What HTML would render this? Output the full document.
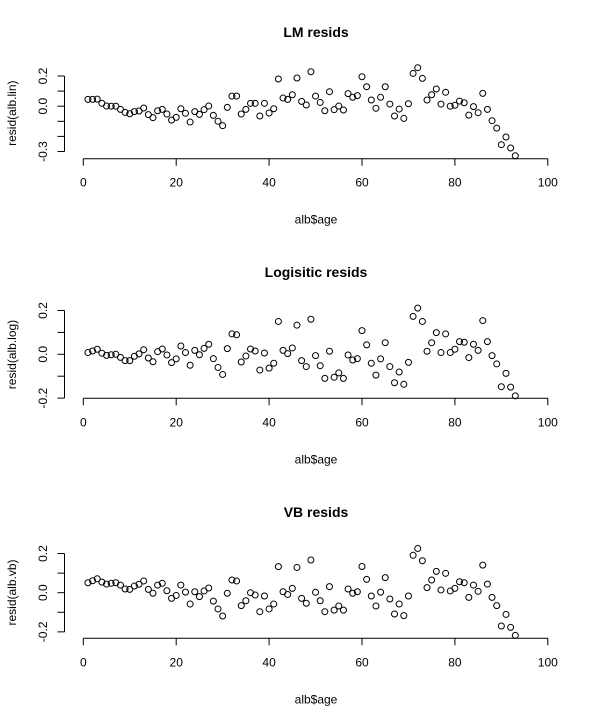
<!DOCTYPE html>
<html><head><meta charset="utf-8"><style>
html,body{margin:0;padding:0;background:#fff}
svg{display:block;font-family:"Liberation Sans",Arial,sans-serif}
</style></head><body>
<svg id="chart" width="600" height="720"></svg>
<script>
const ages = Array.from({length:93},(_, i)=>i+1);
const lmResid = [0.045,0.045,0.047,0.019,0.001,0,0,-0.021,-0.041,-0.05,-0.036,-0.032,-0.012,-0.056,-0.076,-0.03,-0.021,-0.052,-0.092,-0.074,-0.017,-0.047,-0.105,-0.036,-0.054,-0.023,0.001,-0.061,-0.1,-0.129,-0.008,0.067,0.067,-0.052,-0.021,0.019,0.019,-0.065,0.019,-0.045,-0.017,0.18,0.054,0.045,0.076,0.187,0.032,0.008,0.228,0.067,0.025,-0.03,0.096,-0.023,0.001,-0.025,0.083,0.059,0.07,0.195,0.129,0.041,-0.014,0.059,0.129,0.014,-0.065,-0.019,-0.081,0.016,0.217,0.255,0.184,0.041,0.076,0.114,0.014,0.092,0,0.006,0.034,0.023,-0.059,-0.003,-0.043,0.085,-0.021,-0.096,-0.145,-0.255,-0.204,-0.277,-0.328];
const logResid = [0.008,0.015,0.023,0.005,-0.005,-0.002,0,-0.014,-0.029,-0.029,-0.009,0.002,0.021,-0.017,-0.034,0.012,0.024,-0.003,-0.038,-0.021,0.038,0.008,-0.05,0.018,-0.002,0.027,0.046,-0.02,-0.06,-0.092,0.026,0.093,0.089,-0.035,-0.008,0.024,0.015,-0.072,0.006,-0.063,-0.041,0.15,0.018,0.003,0.029,0.133,-0.029,-0.056,0.16,-0.006,-0.052,-0.11,0.014,-0.105,-0.085,-0.11,-0.003,-0.026,-0.02,0.108,0.043,-0.041,-0.095,-0.021,0.053,-0.056,-0.13,-0.081,-0.137,-0.037,0.173,0.211,0.15,0.014,0.053,0.099,0.008,0.093,0.008,0.023,0.058,0.055,-0.015,0.046,0.018,0.154,0.058,-0.006,-0.044,-0.148,-0.087,-0.15,-0.19];
const vbResid = [0.051,0.061,0.071,0.054,0.044,0.048,0.051,0.039,0.019,0.017,0.034,0.043,0.06,0.017,-0.003,0.039,0.048,0.01,-0.029,-0.014,0.039,0.003,-0.058,0.005,-0.02,0.009,0.024,-0.043,-0.083,-0.119,-0.003,0.065,0.06,-0.066,-0.041,0,-0.012,-0.097,-0.017,-0.083,-0.058,0.133,0.005,-0.009,0.022,0.129,-0.029,-0.054,0.167,0.002,-0.041,-0.097,0.031,-0.089,-0.068,-0.089,0.019,-0.003,0.005,0.134,0.068,-0.017,-0.068,0.003,0.077,-0.032,-0.109,-0.058,-0.117,-0.017,0.191,0.226,0.163,0.026,0.065,0.109,0.014,0.099,0.009,0.022,0.056,0.051,-0.024,0.039,0.007,0.141,0.044,-0.024,-0.066,-0.17,-0.111,-0.177,-0.218];
const xTicks = [0,20,40,60,80,100];
const titles = ["LM resids","Logisitic resids","VB resids"];
const yTitles = ["resid(alb.lin)","resid(alb.log)","resid(alb.vb)"];
const yTicks1 = [0.2,0.1,0,-0.1,-0.2,-0.3];
const yLabels1 = ["0.2","","0.0","","","-0.3"];
const yTicks23 = [0.2,0.1,0,-0.1,-0.2];
const yLabels23 = ["0.2","","0.0","","-0.2"];

const NS="http://www.w3.org/2000/svg";
const svg=document.getElementById('chart');
function mk(tag,attrs,parent){const e=document.createElementNS(NS,tag);for(const k in attrs)e.setAttribute(k,attrs[k]);(parent||svg).appendChild(e);return e;}
const xs = v => 83.3 + v*4.645;

const panels = [
 {data:lmResid, ticks:yTicks1, labels:yLabels1, y0:106.2, scale:453/3*1, top:75.7, bottom:150.7, axisY:158.7, titleY:37},
 {data:logResid, ticks:yTicks23, labels:yLabels23, y0:354.3, scale:219, top:310.7, bottom:398.3, axisY:398.3, titleY:277},
 {data:vbResid, ticks:yTicks23, labels:yLabels23, y0:592.7, scale:195.8, top:553.3, bottom:631.7, axisY:638.3, titleY:517}
];
panels[0].scale = 151;

panels.forEach((p,pi)=>{
  const g=mk('g',{});
  
  
  const ys = v => p.y0 - v*p.scale;
  const t=mk('text',{x:316,y:p.titleY,'text-anchor':'middle','font-size':'14','font-weight':'bold'},g);
  t.textContent=titles[pi];
  
  
  // x axis
  const xa=mk('g',{},g);
  
  
  mk('line',{x1:xs(0),x2:xs(100),y1:p.axisY,y2:p.axisY,stroke:'#000','stroke-width':1},xa);
  xTicks.forEach(v=>{
    mk('line',{x1:xs(v),x2:xs(v),y1:p.axisY,y2:p.axisY+7,stroke:'#000'},xa);
    const l=mk('text',{x:xs(v),y:p.axisY+28,'text-anchor':'middle','font-size':'12'},xa);
    l.textContent=v;
    
    
  });
  const xt=mk('text',{x:316,y:p.axisY+65,'text-anchor':'middle','font-size':'12'},g);
  xt.textContent='alb$age';
  
  
  // y axis
  const ya=mk('g',{},g);
  
  
  mk('line',{x1:64.5,x2:64.5,y1:ys(p.ticks[0]),y2:ys(p.ticks[p.ticks.length-1]),stroke:'#000'},ya);
  p.ticks.forEach((v,i)=>{
    mk('line',{x1:57.5,x2:64.5,y1:ys(v),y2:ys(v),stroke:'#000'},ya);
    if(p.labels[i]){
      const l=mk('text',{x:0,y:0,'text-anchor':'middle','font-size':'12',transform:`translate(47,${ys(v)}) rotate(-90)`},ya);
      l.textContent=p.labels[i];
      
      
    }
  });
  const yt=mk('text',{x:0,y:0,'text-anchor':'middle','font-size':'12',transform:`translate(16,${(p.top+p.bottom)/2}) rotate(-90)`},g);
  yt.textContent=yTitles[pi];
  
  
  // points
  p.data.forEach((v,i)=>{
    const c=mk('circle',{cx:xs(ages[i]),cy:ys(v),r:3,fill:'none',stroke:'#000','stroke-width':1},g);
    
    
  });
});
</script>
</body></html>
